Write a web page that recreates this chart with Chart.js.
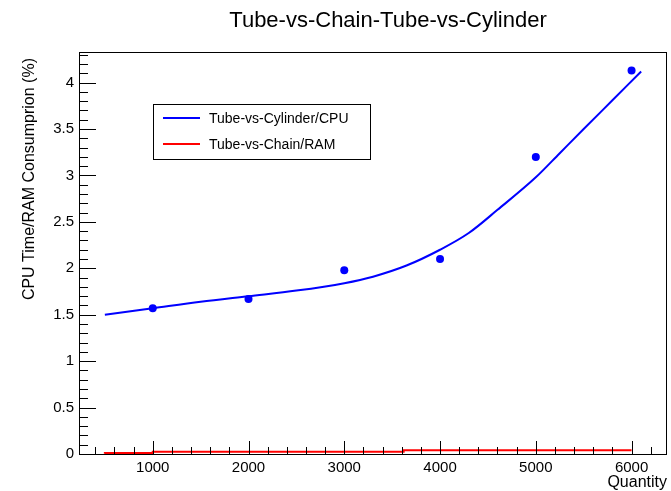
<!DOCTYPE html>
<html>
<head>
<meta charset="utf-8">
<script src="https://cdn.jsdelivr.net/npm/chart.js@4.4.1/dist/chart.umd.min.js"></script>
<style>
  body { margin: 0; background: #fff; }
  canvas { display: block; }
</style>
</head>
<body>
<canvas id="cpuRam" width="671" height="491"></canvas>
<script>
// measured points (blue dots)
const quantity = [1000, 2000, 3000, 4000, 5000, 6000];
const cpuPoints = [1.57, 1.67, 1.98, 2.10, 3.20, 4.13];

// fitted curve for CPU
const fitX = [500, 1000, 1500, 2000, 2500, 3000, 3300, 3650, 4000, 4300, 4600, 5000, 5250, 5500, 5800, 6100];
const fitY = [1.50, 1.57, 1.64, 1.70, 1.76, 1.84, 1.91, 2.03, 2.20, 2.38, 2.63, 2.98, 3.24, 3.50, 3.81, 4.12];

// RAM curve (stepped, near zero)
const ramX = [500, 1000, 3620, 4700, 6000];
const ramY = [0.003, 0.01, 0.025, 0.04, 0.04];

const xTicks = [1000, 2000, 3000, 4000, 5000, 6000];
const yTicks = [0, 0.5, 1, 1.5, 2, 2.5, 3, 3.5, 4];

const FONT = "'Liberation Sans', Arial, Helvetica, sans-serif";

function toPoints(xs, ys) {
    var pts = [];
    for (var i = 0; i < xs.length; i++) {
        pts.push({ x: xs[i], y: ys[i] });
    }
    return pts;
}

// frame, inner ticks, titles and legend box in ROOT style
const rootStyle = {
    id: 'rootStyle',
    afterDraw(chart) {
        const ctx = chart.ctx;
        const a = chart.chartArea;
        const xs = chart.scales.x;
        const ys = chart.scales.y;
        ctx.save();
        ctx.strokeStyle = '#000';
        ctx.lineWidth = 1;

        // frame
        ctx.strokeRect(Math.round(a.left) + 0.5, Math.round(a.top) + 0.5,
            Math.round(a.right - a.left) - 1, Math.round(a.bottom - a.top));

        ctx.beginPath();
        // y ticks, minor every 0.1
        for (var v = 0; v <= ys.max + 1e-9; v += 0.1) {
            var py = Math.round(ys.getPixelForValue(v)) + 0.5;
            var major = Math.abs(v * 2 - Math.round(v * 2)) < 1e-6;
            ctx.moveTo(a.left, py);
            ctx.lineTo(a.left + (major ? 17 : 9), py);
        }
        // x ticks, minor every 200
        for (var q = 400; q <= xs.max; q += 200) {
            var px = Math.round(xs.getPixelForValue(q)) + 0.5;
            var majorX = q % 1000 === 0;
            ctx.moveTo(px, a.bottom);
            ctx.lineTo(px, a.bottom - (majorX ? 13 : 7));
        }
        ctx.stroke();

        ctx.fillStyle = '#000';
        // title
        ctx.font = '22px ' + FONT;
        ctx.textAlign = 'center';
        ctx.textBaseline = 'alphabetic';
        ctx.fillText('Tube-vs-Chain-Tube-vs-Cylinder', 388, 27);

        // x axis title
        ctx.font = '16px ' + FONT;
        ctx.textAlign = 'right';
        ctx.fillText('Quantity', a.right, 487);

        // y axis title
        ctx.save();
        ctx.translate(30, 58);
        ctx.rotate(-Math.PI / 2);
        ctx.textAlign = 'right';
        ctx.textBaseline = 'middle';
        ctx.font = '16px ' + FONT;
        ctx.fillText('CPU Time/RAM Consumprion (%)', 0, 0);
        ctx.restore();

        // legend
        ctx.strokeRect(153.5, 104.5, 217, 55);
        ctx.font = '14px ' + FONT;
        ctx.textAlign = 'left';
        ctx.textBaseline = 'middle';
        var rowY = [118, 144];
        var row = 0;
        chart.data.datasets.forEach(function (ds) {
            if (!ds.inLegend) return;
            ctx.strokeStyle = ds.borderColor;
            ctx.lineWidth = 2;
            ctx.beginPath();
            ctx.moveTo(163, rowY[row]);
            ctx.lineTo(200, rowY[row]);
            ctx.stroke();
            ctx.fillStyle = '#000';
            ctx.fillText(ds.label, 209, rowY[row] + 1);
            row++;
        });
        ctx.restore();
    }
};

const cpuRamChart = new Chart('cpuRam', {
    type: 'scatter',
    data: {
        datasets: [
            {
                label: 'points',
                data: toPoints(quantity, cpuPoints),
                showLine: false,
                pointRadius: 4,
                pointBackgroundColor: '#0000ff',
                pointBorderWidth: 0
            },
            {
                label: 'Tube-vs-Cylinder/CPU',
                inLegend: true,
                data: toPoints(fitX, fitY),
                showLine: true,
                borderColor: '#0000ff',
                borderWidth: 2,
                pointRadius: 0,
                cubicInterpolationMode: 'monotone'
            },
            {
                label: 'Tube-vs-Chain/RAM',
                inLegend: true,
                data: toPoints(ramX, ramY),
                showLine: true,
                stepped: 'after',
                borderColor: '#ff0000',
                borderWidth: 2,
                pointRadius: 0,
                clip: false
            }
        ]
    },
    options: {
        responsive: false,
        animation: false,
        events: [],
        layout: { padding: { top: 52, right: 3, left: 0, bottom: 0 } },
        plugins: { legend: { display: false }, tooltip: { enabled: false } },
        scales: {
            x: {
                type: 'linear',
                min: 230,
                max: 6370,
                afterBuildTicks: function (s) { s.ticks = xTicks.map(function (v) { return { value: v }; }); },
                afterFit: function (s) { s.height = 37; },
                grid: { display: false, drawTicks: false },
                border: { display: false },
                ticks: {
                    color: '#000',
                    padding: 5,
                    maxRotation: 0,
                    autoSkip: false,
                    font: { family: FONT, size: 15 },
                    callback: function (v) { return String(v); }
                }
            },
            y: {
                type: 'linear',
                min: 0,
                max: 4.33,
                afterBuildTicks: function (s) { s.ticks = yTicks.map(function (v) { return { value: v }; }); },
                afterFit: function (s) { s.width = 79; },
                grid: { display: false, drawTicks: false },
                border: { display: false },
                ticks: {
                    color: '#000',
                    padding: 5,
                    autoSkip: false,
                    font: { family: FONT, size: 15 },
                    callback: function (v) { return String(v); }
                }
            }
        }
    },
    plugins: [rootStyle]
});
</script>
</body>
</html>
